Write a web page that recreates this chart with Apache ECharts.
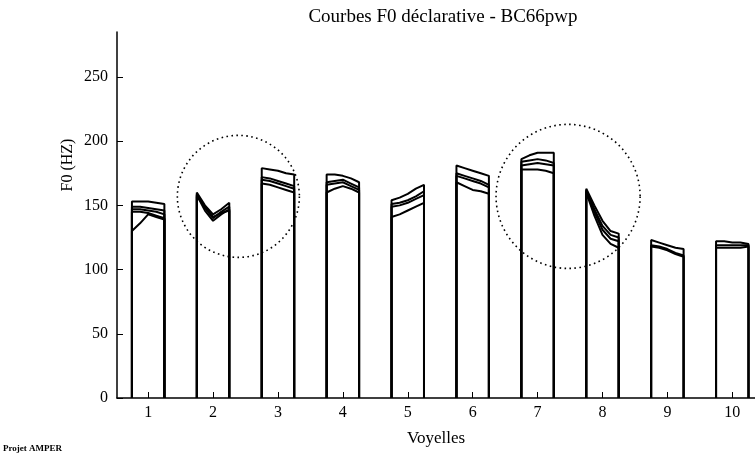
<!DOCTYPE html>
<html>
<head>
<meta charset="utf-8">
<script src="https://cdn.jsdelivr.net/npm/echarts@6/dist/echarts.min.js"></script>
<style>
  html, body { margin: 0; padding: 0; background: #fff; }
  #chart { width: 755px; height: 456px; }
</style>
</head>
<body>
<div id="chart"></div>
<script>
// F0 contours (Hz) per vowel, five samples across the vowel's normalised duration
const vowels = [1, 2, 3, 4, 5, 6, 7, 8, 9, 10];
const vowel1 = [[153, 153, 153, 152, 151], [149, 149, 148, 147, 146], [147, 147, 146, 145, 143], [145, 145, 144, 142, 140], [130, 136, 143, 141, 139]];
const vowel2 = [[160, 150, 143, 147, 152], [159, 148, 140, 145, 149], [158, 146, 138, 143, 147], [157, 149, 141, 144, 146]];
const vowel3 = [[179, 178, 177, 175, 174], [172, 171, 169, 167, 165], [170, 169, 167, 165, 163], [167, 166, 164, 162, 160]];
const vowel4 = [[174, 174, 173, 171, 168], [168, 169, 170, 167, 164], [166, 167, 168, 165, 162], [160, 163, 165, 163, 160]];
const vowel5 = [[154, 156, 159, 163, 166], [151, 152, 154, 157, 161], [149, 150, 152, 155, 158], [141, 143, 146, 149, 152]];
const vowel6 = [[181, 179, 177, 175, 173], [175, 173, 171, 169, 166], [173, 171, 169, 167, 164], [168, 165, 162, 161, 159]];
const vowel7 = [[186, 189, 191, 191, 191], [184, 185, 186, 185, 183], [181, 182, 183, 182, 181], [178, 178, 178, 177, 175]];
const vowel8 = [[163, 150, 138, 130, 128], [162, 147, 134, 127, 125], [161, 145, 131, 124, 122], [160, 142, 127, 120, 117]];
const vowel9 = [[123, 121, 119, 117, 116], [119, 118, 116, 113, 111], [118, 117, 115, 112, 110]];
const vowel10 = [[122, 122, 121, 121, 120], [119, 119, 119, 119, 119], [117, 117, 117, 117, 118]];
const contours = [vowel1, vowel2, vowel3, vowel4, vowel5, vowel6, vowel7, vowel8, vowel9, vowel10];
const yTicks = [0, 50, 100, 150, 200, 250];

// Dotted rings around vowels 2-3 and 7-8 (centre in axis units, radius in vowel units)
const rings = [
  { x: 2.39, y: 157, r: 0.94 },
  { x: 7.47, y: 157, r: 1.11 }
];

const halfWidth = 0.25;
const serif = '"Liberation Serif", "Times New Roman", serif';

// Each contour is drawn as a closed outline: up from 0, along the F0 curve, back down to 0
const series = [];
contours.forEach((curves, vi) => {
  const c = vowels[vi];
  curves.forEach(vals => {
    const n = vals.length;
    const pts = [[c - halfWidth, 0]];
    vals.forEach((v, k) => pts.push([c - halfWidth + (2 * halfWidth) * k / (n - 1), v]));
    pts.push([c + halfWidth, 0]);
    series.push({
      type: 'line',
      data: pts,
      symbol: 'none',
      silent: true,
      lineStyle: { color: '#000', width: 2 },
      z: 2
    });
  });
});

const chart = echarts.init(document.getElementById('chart'), null, { renderer: 'canvas' });
chart.setOption({
  animation: false,
  backgroundColor: '#fff',
  title: {
    text: 'Courbes F0 déclarative - BC66pwp',
    left: 438,
    top: 3,
    textAlign: 'center',
    textStyle: { fontFamily: serif, fontSize: 19, fontWeight: 'normal', color: '#000' }
  },
  grid: { left: 117, top: 32, width: 638, height: 366, containLabel: false },
  xAxis: {
    type: 'value',
    min: 0.52,
    max: 10.35,
    name: 'Voyelles',
    nameLocation: 'middle',
    nameGap: 32,
    nameTextStyle: { fontFamily: serif, fontSize: 17, color: '#000' },
    axisLine: { show: true, onZero: false, lineStyle: { color: '#000', width: 1.5 } },
    axisTick: { show: true, inside: true, length: 6, customValues: vowels, lineStyle: { color: '#000', width: 1 } },
    axisLabel: { customValues: vowels, fontFamily: serif, fontSize: 16, color: '#000', margin: 7 },
    splitLine: { show: false }
  },
  yAxis: {
    type: 'value',
    min: 0,
    max: 285,
    axisLine: { show: true, lineStyle: { color: '#000', width: 1.5 } },
    axisTick: { show: true, inside: true, length: 6, customValues: yTicks, lineStyle: { color: '#000', width: 1 } },
    axisLabel: { customValues: yTicks, fontFamily: serif, fontSize: 16, color: '#000', margin: 9 },
    splitLine: { show: false }
  },
  series: series
});

// Annotation layer: y-axis title, footer and the dotted rings
function drawOverlay() {
  const elements = [
    {
      type: 'text',
      x: 68, y: 165,
      rotation: Math.PI / 2,
      style: { text: 'F0 (HZ)', fontFamily: serif, fontSize: 16, fill: '#000', align: 'center', verticalAlign: 'middle' }
    },
    {
      type: 'text',
      x: 3, y: 449,
      style: { text: 'Projet AMPER', fontFamily: serif, fontSize: 9, fontWeight: 'bold', fill: '#000', align: 'left', verticalAlign: 'middle' }
    }
  ];
  rings.forEach(rg => {
    const p = chart.convertToPixel({ gridIndex: 0 }, [rg.x, rg.y]);
    const q = chart.convertToPixel({ gridIndex: 0 }, [rg.x + rg.r, rg.y]);
    elements.push({
      type: 'circle',
      shape: { cx: p[0], cy: p[1], r: q[0] - p[0] },
      style: { fill: 'none', stroke: '#000', lineWidth: 1.6, lineDash: [1.6, 3.4] },
      silent: true,
      z: 3
    });
  });
  chart.setOption({ graphic: { elements: elements } });
}
drawOverlay();
</script>
</body>
</html>
